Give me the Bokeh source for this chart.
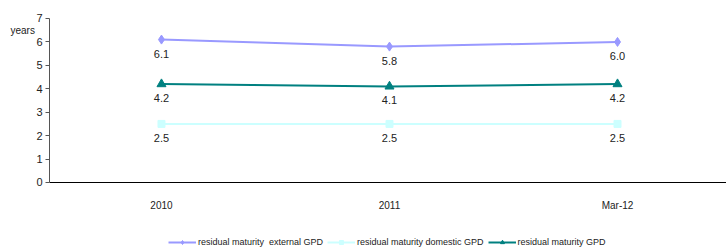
from bokeh.plotting import figure
from bokeh.models import ColumnDataSource, Legend, LegendItem, Label, Range1d, FixedTicker
from bokeh.core.properties import value
from bokeh.embed import file_html
from bokeh.resources import INLINE

categories = ["2010", "2011", "Mar-12"]
external_gpd = [6.1, 5.8, 6.0]
domestic_gpd = [2.5, 2.5, 2.5]
total_gpd = [4.2, 4.1, 4.2]
y_ticks = [0, 1, 2, 3, 4, 5, 6, 7]
series_names = ["residual maturity  external GPD", "residual maturity domestic GPD", "residual maturity GPD"]

FONT = "Liberation Sans"
xpos = list(range(len(categories)))

p = figure(width=726, height=248, x_range=Range1d(-0.706, 2.478), y_range=Range1d(-2.817, 7.768),
           output_backend="svg", toolbar_location=None,
           min_border_left=0, min_border_right=0, min_border_top=0, min_border_bottom=0)
p.outline_line_color = None
p.xgrid.grid_line_color = None
p.ygrid.grid_line_color = None

Y_AXIS_AT = -0.491
p.yaxis.fixed_location = Y_AXIS_AT
p.yaxis.bounds = (0, 7)
p.yaxis.ticker = FixedTicker(ticks=y_ticks)
p.yaxis.major_tick_out = 4
p.yaxis.major_tick_in = 0
p.yaxis.minor_tick_line_color = None
p.yaxis.axis_line_color = "#555555"
p.yaxis.major_tick_line_color = "#555555"
p.yaxis.major_label_text_font = FONT
p.yaxis.major_label_text_font_size = "11px"
p.yaxis.major_label_text_color = "#222222"
p.yaxis.major_label_standoff = 3

p.xaxis.fixed_location = 0
p.xaxis.bounds = (Y_AXIS_AT, 2.478)
p.xaxis.ticker = FixedTicker(ticks=xpos)
p.xaxis.major_label_overrides = {i: c for i, c in zip(xpos, categories)}
p.xaxis.major_tick_line_color = None
p.xaxis.minor_tick_line_color = None
p.xaxis.axis_line_color = "#000000"
p.xaxis.major_label_text_font = FONT
p.xaxis.major_label_text_font_size = "10px"
p.xaxis.major_label_text_color = "#222222"
p.xaxis.major_label_standoff = 12

colors = ["#9999FF", "#CCFFFF", "#008080"]
series = [external_gpd, domestic_gpd, total_gpd]
items = []
for name, vals, col, mk in zip(series_names, series, colors, ["diamond", "square", "triangle"]):
    src = ColumnDataSource(dict(x=xpos, y=vals, lab=["%.1f" % v for v in vals]))
    r1 = p.line("x", "y", source=src, line_color=col, line_width=2)
    r2 = p.scatter("x", "y", source=src, marker=mk, size=9 if mk != "square" else 7,
                   fill_color=col, line_color=col)
    p.text("x", "y", text="lab", source=src, text_align="center", text_baseline="top",
           y_offset=10, text_font=value(FONT), text_font_size="11px", text_color="#222222")
    items.append(LegendItem(label=name, renderers=[r1, r2]))

legend = Legend(items=items, orientation="horizontal", location=(168, 1),
                label_text_font=FONT, label_text_font_size="9px", label_text_color="#222222",
                glyph_width=28, glyph_height=10, spacing=4, label_standoff=2,
                border_line_color=None, background_fill_alpha=0, padding=0, margin=0,
                label_height=10)
p.add_layout(legend)

p.add_layout(Label(x=10, y=6.5, x_units="screen", y_units="data", text="years",
                   text_baseline="middle", text_font=FONT, text_font_size="10px",
                   text_color="#222222"))

open("out.html", "w").write(file_html(p, INLINE))
